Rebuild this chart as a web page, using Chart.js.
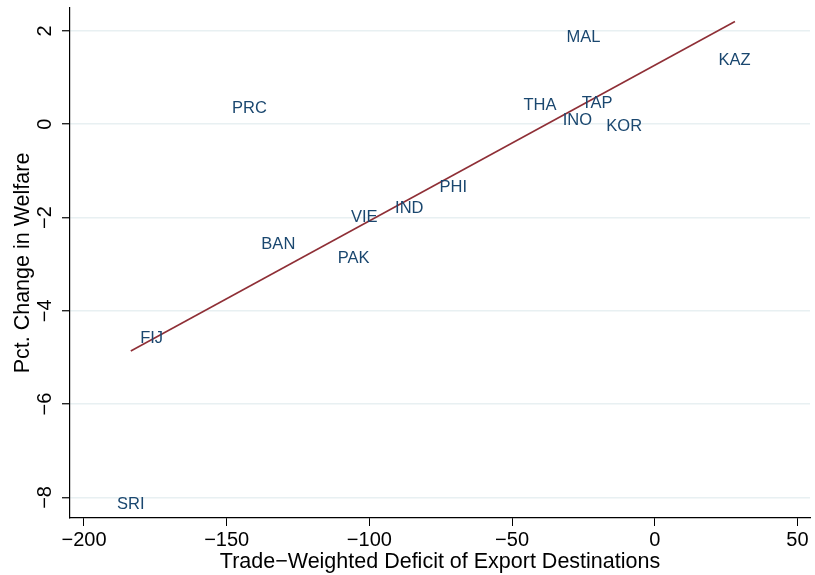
<!DOCTYPE html>
<html>
<head>
<meta charset="utf-8">
<script src="https://cdn.jsdelivr.net/npm/chart.js@4"></script>
<style>
  body { margin: 0; background: #fff; }
</style>
</head>
<body>
<canvas id="c" width="815" height="575"></canvas>
<script>
// country codes and their values (label centres)
const countries = ['SRI', 'FIJ', 'PRC', 'BAN', 'PAK', 'VIE', 'IND', 'PHI', 'THA', 'MAL', 'TAP', 'INO', 'KOR', 'KAZ'];
const deficit = [-183.6, -176.3, -142.0, -131.9, -105.5, -101.8, -86.0, -70.6, -40.2, -25.0, -20.2, -27.1, -10.7, 28.0];
const welfare = [-8.16, -4.60, 0.33, -2.57, -2.87, -1.99, -1.80, -1.36, 0.41, 1.86, 0.45, 0.08, -0.04, 1.36];

// fitted line end points
const fitX = [-183.6, 28.1];
const fitY = [-4.86, 2.20];

const xTicks = [-200, -150, -100, -50, 0, 50];
const yTicks = [-8, -6, -4, -2, 0, 2];

const FONT = '"Liberation Sans", Arial, Helvetica, sans-serif';

function minus(v) {
    return String(v).replace('-', '\u2212');
}

let pts = [];
for (let i = 0; i < countries.length; i++) {
    pts.push({x: deficit[i], y: welfare[i]});
}
let fit = [];
for (let i = 0; i < fitX.length; i++) {
    fit.push({x: fitX[i], y: fitY[i]});
}

// draw the country codes where the (invisible) points are
const labelPlugin = {
    id: 'labels',
    afterDatasetsDraw(chart) {
        let ctx = chart.ctx;
        let meta = chart.getDatasetMeta(0);
        ctx.save();
        ctx.font = '16.5px ' + FONT;
        ctx.fillStyle = '#1a476f';
        ctx.textAlign = 'center';
        ctx.textBaseline = 'middle';
        meta.data.forEach(function(el, i){
            ctx.fillText(countries[i], el.x, el.y);
        });
        ctx.restore();
    }
};

new Chart(document.getElementById('c'), {
    type: 'scatter',
    data: {
        datasets: [{
            data: pts,
            pointRadius: 0,
            showLine: false
        }, {
            type: 'line',
            data: fit,
            borderColor: '#8f2f36',
            borderWidth: 1.6,
            pointRadius: 0,
            fill: false
        }]
    },
    options: {
        responsive: false,
        animation: false,
        devicePixelRatio: 1,
        layout: { padding: { top: 8, right: 5, left: 0, bottom: 0 } },
        plugins: { legend: { display: false }, tooltip: { enabled: false } },
        scales: {
            x: {
                type: 'linear',
                min: -204.9,
                max: 54.4,
                afterBuildTicks: function(scale) {
                    scale.ticks = xTicks.map(v => ({value: v}));
                },
                afterFit: function(scale) {
                    scale.height = 57;
                    scale.paddingLeft = 0;
                    scale.paddingRight = 0;
                },
                ticks: {
                    color: '#000',
                    padding: 2,
                    font: { family: FONT, size: 20 },
                    callback: v => minus(v)
                },
                grid: {
                    drawOnChartArea: false,
                    drawTicks: true,
                    tickLength: 8,
                    tickColor: '#000'
                },
                border: { display: true, color: '#000', width: 1.2 },
                title: {
                    display: true,
                    text: 'Trade\u2212Weighted Deficit of Export Destinations',
                    color: '#000',
                    font: { family: FONT, size: 21.5 },
                    padding: { top: 0, bottom: 0 }
                }
            },
            y: {
                type: 'linear',
                min: -8.44,
                max: 2.49,
                afterBuildTicks: function(scale) {
                    scale.ticks = yTicks.map(v => ({value: v}));
                },
                afterFit: function(scale) {
                    scale.width = 70;
                    scale.paddingTop = 0;
                    scale.paddingBottom = 0;
                },
                ticks: {
                    color: '#000',
                    minRotation: 90,
                    maxRotation: 90,
                    crossAlign: 'center',
                    padding: 5,
                    font: { family: FONT, size: 20 },
                    callback: v => minus(v)
                },
                grid: {
                    color: '#e8f0f2',
                    lineWidth: 1.5,
                    drawTicks: true,
                    tickLength: 8,
                    tickColor: '#000',
                    tickWidth: 1.2
                },
                border: { display: true, color: '#000', width: 1.2 },
                title: {
                    display: true,
                    text: 'Pct. Change in Welfare',
                    color: '#000',
                    font: { family: FONT, size: 21.5 },
                    padding: { top: 10, bottom: 0 }
                }
            }
        }
    },
    plugins: [labelPlugin]
});
</script>
</body>
</html>
